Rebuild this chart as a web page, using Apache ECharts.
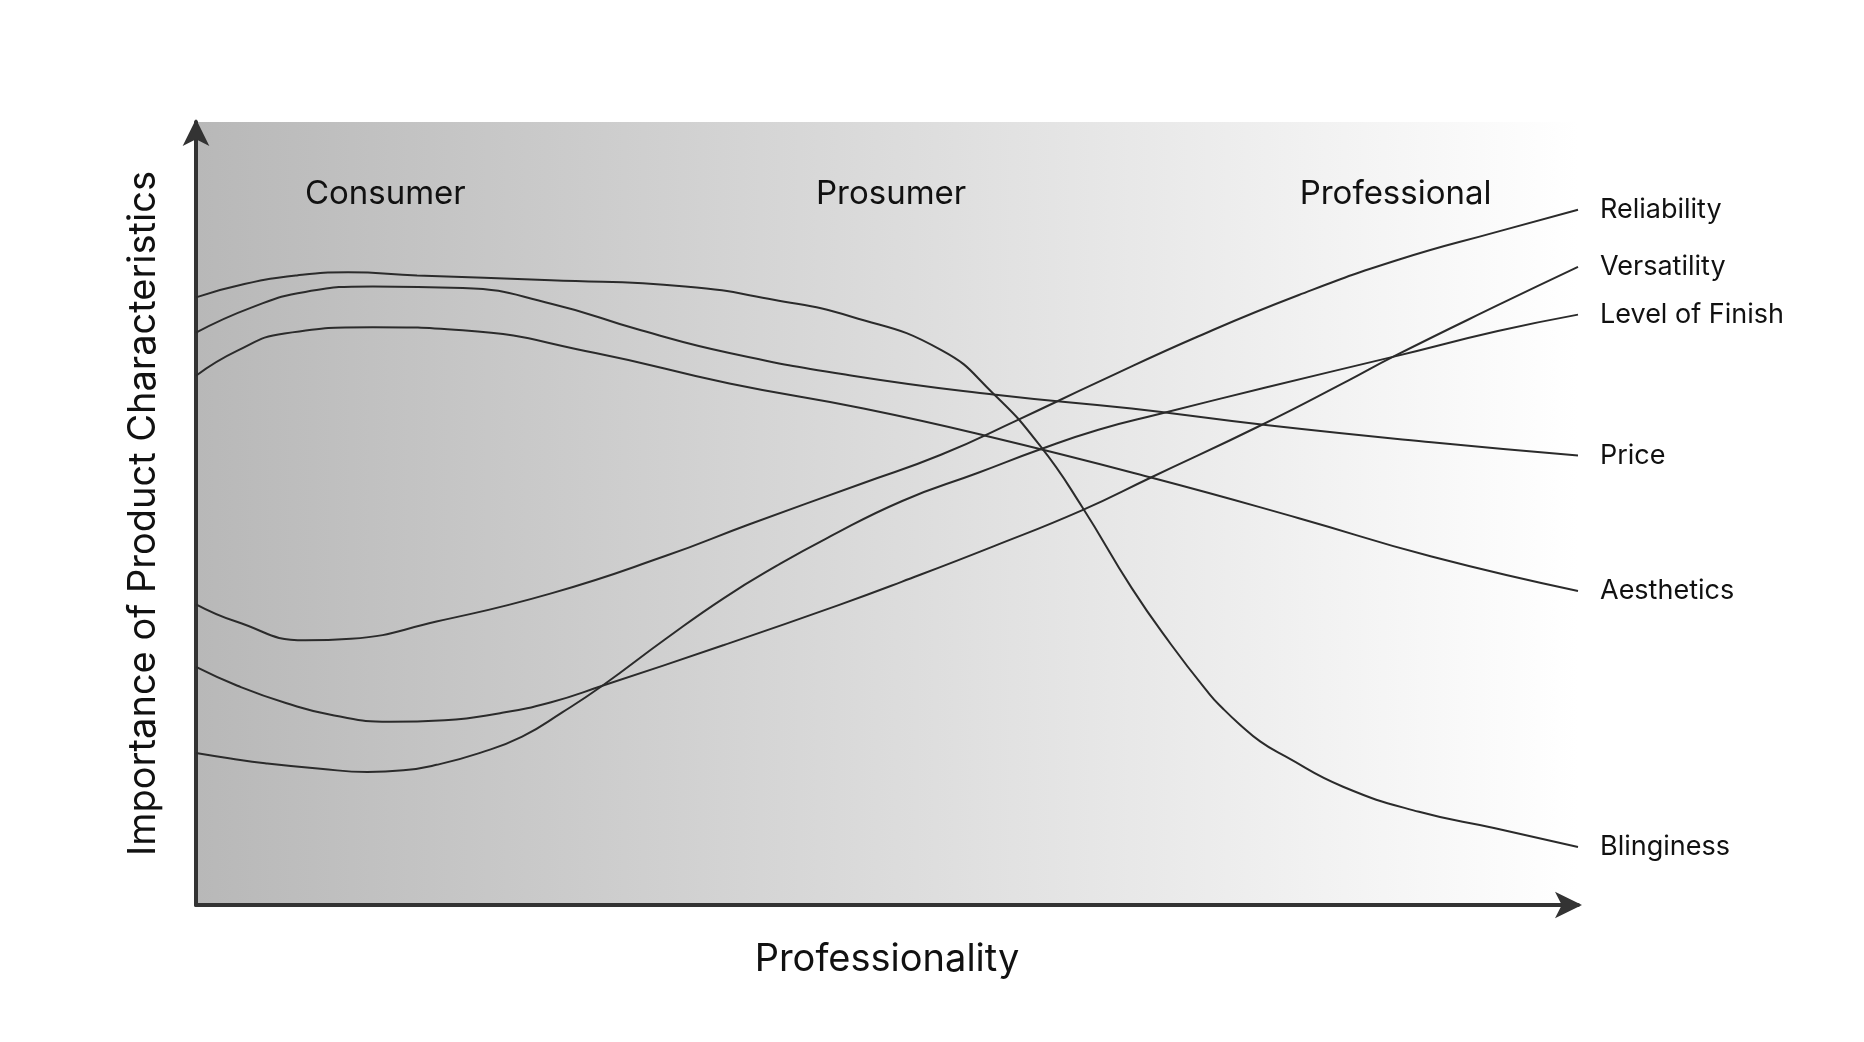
<!DOCTYPE html>
<html>
<head>
<meta charset="utf-8">
<script src="https://cdn.jsdelivr.net/npm/echarts@6/dist/echarts.min.js"></script>
<style>
html,body{margin:0;padding:0;background:#fff;}
#chart{width:1864px;height:1042px;}
</style>
</head>
<body>
<div id="chart"></div>
<script>
// Curves: [professionality, importance]
const reliability = [[0,38.4],[2.9,36.2],[7.9,33.8],[11.2,34.0],[17.4,36.2],[25.7,39.8],[34.0,44.6],[40,48.6],[48.3,53.9],[53.9,57.5],[59.4,61.9],[65.3,66.8],[72.5,72.6],[79.8,77.9],[87,82.4],[94.2,86.0],[100,88.8]];
const versatility = [[0,30.4],[3,28.0],[6.5,25.8],[10,24.2],[14,23.4],[18,23.6],[22,24.5],[25.7,25.9],[29.4,28.0],[38.2,33.2],[46.5,38.3],[51.1,41.3],[57.7,45.8],[64.1,50.4],[69.1,54.6],[77.1,61.3],[83.4,67.0],[86.6,70.0],[94.2,76.6],[100,81.5]];
const levelOfFinish = [[0,19.4],[2.5,18.7],[5,18.1],[9,17.4],[12.4,17.0],[15,17.2],[17.4,17.9],[20.5,19.4],[23.6,21.5],[26.5,24.6],[29.4,28.0],[34,34.0],[38.2,39.2],[42,43.3],[45.6,46.8],[51.1,51.6],[56.6,55.2],[61.1,58.2],[65.3,60.7],[69.7,62.7],[77.4,66.1],[86.6,70.0],[94.2,73.3],[100,75.4]];
const price = [[0,73.1],[4,76.3],[7.9,78.3],[12.8,79.0],[19.3,78.8],[25.7,76.8],[32.2,73.4],[38.6,70.5],[47.5,67.6],[57.7,65.2],[67.7,63.4],[77.4,61.3],[89.4,59.1],[100,57.4]];
const aesthetics = [[0,67.6],[3,70.8],[6.4,73.0],[12.8,73.8],[19.3,73.4],[28.9,70.5],[38.6,66.6],[48.3,63.4],[57.2,59.9],[69.1,54.6],[79.8,49.4],[89.4,44.5],[100,40.1]];
const blinginess = [[0,77.6],[3.5,79.3],[7.3,80.4],[11,80.8],[16,80.4],[25.7,79.8],[35.4,79.0],[41.8,77.3],[47.5,75.1],[53.9,70.9],[57.7,65.3],[61.1,58.6],[64.1,50.9],[67.7,40.5],[70.5,33.4],[73.3,27.0],[74.3,25.1],[75.5,23.1],[77,20.9],[78.8,19.0],[83,15.1],[88.5,11.9],[94,9.8],[100,7.4]];

const seriesNames = ['Reliability','Versatility','Level of Finish','Price','Aesthetics','Blinginess'];
const seriesData = [reliability, versatility, levelOfFinish, price, aesthetics, blinginess];

const regionNames = ['Consumer','Prosumer','Professional'];
const regionX = [13.7, 50.3, 86.8];
const regionY = [90.8, 90.8, 90.8];

const xTitle = 'Professionality';
const yTitle = 'Importance of Product Characteristics';

const FONT = 'Inter';
const chart = echarts.init(document.getElementById('chart'), null, {renderer:'canvas'});

const lineSeries = seriesNames.map((name, i) => ({
  name: name,
  type: 'line',
  data: seriesData[i],
  smooth: 0.5,
  showSymbol: false,
  symbol: 'none',
  lineStyle: {color:'#2b2b2b', width:2},
  endLabel: {show:true, formatter:'{a}', distance:22, color:'#111', fontFamily:FONT, fontSize:27},
  z: 3
}));

const regionSeries = {
  type: 'scatter',
  data: regionNames.map((n,i)=>[regionX[i], regionY[i], n]),
  symbolSize: 2,
  itemStyle: {color:'rgba(0,0,0,0)', opacity:1},
  label: {show:true, position:'inside', formatter:p=>p.data[2], color:'#111', fontFamily:FONT, fontSize:33},
  labelLayout: {hideOverlap:false},
  z: 4
};

chart.setOption({
  animation: false,
  backgroundColor: '#ffffff',
  grid: {
    left:196, right:286, top:122, bottom:137,
    show:true, borderWidth:0,
    backgroundColor: new echarts.graphic.LinearGradient(0,0,1,0,[{offset:0,color:'#b8b8b8'},{offset:1,color:'#ffffff'}])
  },
  xAxis: {
    type:'value', min:0, max:100,
    name: xTitle, nameLocation:'middle', nameGap:36,
    nameTextStyle:{fontFamily:FONT, fontSize:38, color:'#111'},
    axisLine:{show:true, lineStyle:{color:'#333', width:4}, symbol:['none','arrow'], symbolSize:[20,27], symbolOffset:[0,4]},
    axisTick:{show:false}, axisLabel:{show:false}, splitLine:{show:false}
  },
  yAxis: {
    type:'value', min:0, max:100,
    name: yTitle, nameLocation:'middle', nameGap:33, nameRotate:90,
    nameTextStyle:{fontFamily:FONT, fontSize:38, color:'#111'},
    axisLine:{show:true, lineStyle:{color:'#333', width:4}, symbol:['none','arrow'], symbolSize:[20,27], symbolOffset:[0,3]},
    axisTick:{show:false}, axisLabel:{show:false}, splitLine:{show:false}
  },
  series: lineSeries.concat([regionSeries])
});
</script>
</body>
</html>
